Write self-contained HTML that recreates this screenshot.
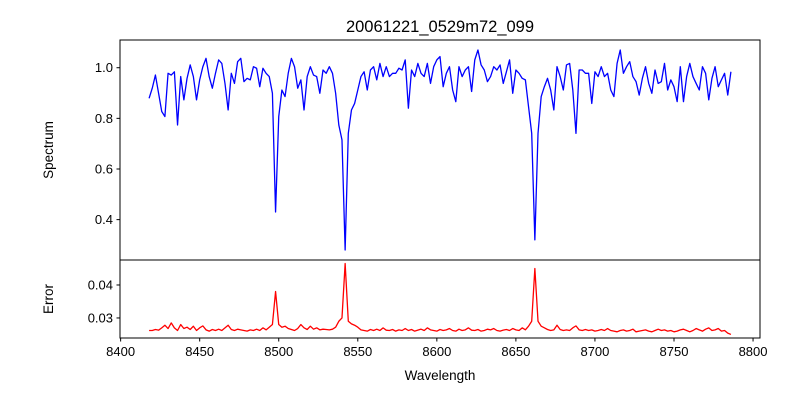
<!DOCTYPE html>
<html><head><meta charset="utf-8"><style>
body{margin:0;background:#fff;}
svg{display:block;font-family:"Liberation Sans","DejaVu Sans",sans-serif;}
</style></head><body>
<svg id="chart" width="800" height="400" viewBox="0 0 800 400" xmlns="http://www.w3.org/2000/svg">
<rect width="800" height="400" fill="#fff"/>
<text x="440" y="32" font-size="16.5" text-anchor="middle">20061221_0529m72_099</text>
<text x="0" y="0" font-size="13.5" text-anchor="middle" transform="translate(53,150) rotate(-90)">Spectrum</text>
<text x="0" y="0" font-size="13.5" text-anchor="middle" transform="translate(53,299) rotate(-90)">Error</text>
<text x="440" y="380" font-size="13.5" text-anchor="middle">Wavelength</text>
<g id="gtop"></g><g id="gbot"></g>
</svg>
<script>
const waveStart = 8418;
const waveStep = 2;
const spectrumValues = [
.879,.919,.971,.899,.827,.807,.978,.971,.984,.774,.965,.873,.958,1.011,.965,.873,.952,1.004,1.037,.965,.919,.978,1.031,1.017,.938,.833,.978,.938,1.024,1.037,.945,.958,.952,1.004,.998,.925,.998,.978,.965,.899,.43,.807,
.912,.886,.978,1.037,1.004,.919,.952,.833,.965,1.004,.971,.965,.899,.991,.978,1.004,.978,.899,.774,.715,.28,.741,.833,.859,.912,.965,.984,.912,.991,1.004,.952,1.017,.965,1.004,.965,.978,.978,.998,.991,1.031,.840,.991,.965,1.017,.978,.965,1.017,.938,1.004,1.031,
1.044,.925,.978,1.004,.912,.866,1.004,.965,.991,1.004,.906,1.031,1.07,1.011,.991,.945,.965,1.004,.991,1.011,.938,.984,1.031,.899,.991,.978,.958,.952,.846,.741,.32,.741,.886,.925,.958,.912,.833,1.004,.965,.912,1.011,1.017,.912,.741,.991,.991,.978,.978,.859,.984,
.965,1.004,.965,.978,.912,.886,1.017,1.07,.978,1.004,1.024,.965,.945,.892,.958,1.004,.938,.899,.991,.938,.945,1.017,.912,.952,.925,.866,1.004,.866,.965,1.017,.965,.938,.912,1.004,.978,.873,.958,1.004,.925,.952,.978,.892,.984];
const errorValues = [
.0262,.0262,.0265,.0263,.0270,.0278,.0268,.0285,.0270,.0262,.0280,.0268,
.0272,.0265,.0275,.0262,.0270,.0276,.0264,.0260,.0265,.0262,.0266,.0262,.0270,.0278,.0265,.0262,.0266,.0264,.0262,.0260,.0264,.0262,.0266,.0262,.0270,.0264,.0272,.0280,
.0380,.0280,.0272,.0275,
.0268,.0265,.0262,.0268,.0280,.0270,.0265,.0275,.0266,.0270,.0264,.0266,.0265,.0264,.0266,.0272,
.0290,.0300,.0465,.0290,.0282,.0278,.0272,
.0264,.0262,.0260,.0265,.0262,.0266,.0262,.0270,.0263,.0262,.0265,.0260,.0264,.0262,.0268,.0262,.0265,.0260,.0263,.0266,.0262,.0270,.0264,.0262,.0260,.0265,.0262,.0264,.0268,.0262,.0260,.0266,.0262,.0264,.0270,.0263,.0262,.0265,.0260,.0262,.0266,.0264,.0268,.0262,.0260,.0263,.0265,.0262,.0268,.0264,.0262,.0270,.0264,
.0275,.0290,.0450,.0290,.0275,.0270,
.0265,.0262,.0264,.0278,.0265,.0262,.0264,.0262,.0270,.0276,.0264,.0262,.0265,.0262,.0264,.0260,.0262,.0265,.0262,.0268,.0262,.0260,.0258,.0262,.0264,.0260,.0262,.0266,.0258,.0260,.0262,.0264,.0260,.0258,.0262,.0266,.0262,.0264,.0260,.0262,.0258,.0260,.0264,.0266,.0262,.0258,.0262,.0268,.0264,.0260,.0266,.0270,.0262,.0264,.0268,.0260,.0262,.0254,.0250];
const xTicks = [8400,8450,8500,8550,8600,8650,8700,8750,8800];
const topTicks = [0.4,0.6,0.8,1.0];
const botTicks = [0.03,0.04];

const NS="http://www.w3.org/2000/svg";
const L=120,R=760, T1=40,B1=260, T2=260,B2=338;
const waves = spectrumValues.map((_,i)=>waveStart+i*waveStep);
const wmin=Math.min(...waves), wmax=Math.max(...waves), wm=(wmax-wmin)*0.05;
const xs=w=>L+(w-(wmin-wm))/((wmax+wm)-(wmin-wm))*(R-L);
function yScale(vals,t,b){const mn=Math.min(...vals),mx=Math.max(...vals),m=(mx-mn)*0.05;return v=>b-(v-(mn-m))/((mx+m)-(mn-m))*(b-t);}
const y1=yScale(spectrumValues,T1,B1), y2=yScale(errorValues,T2,B2);
function el(tag,attrs,parent,txt){const e=document.createElementNS(NS,tag);for(const k in attrs)e.setAttribute(k,attrs[k]);if(txt!==undefined)e.textContent=txt;parent.appendChild(e);return e;}
const gTop=document.getElementById('gtop'), gBot=document.getElementById('gbot');

const p1=el('path',{d:spectrumValues.map((v,i)=>(i?'L':'M')+xs(waves[i]).toFixed(2)+' '+y1(v).toFixed(2)).join(''),fill:'none',stroke:'#0000ff','stroke-width':1.3,'stroke-linejoin':'round'},gTop);


const p2=el('path',{d:errorValues.map((v,i)=>(i?'L':'M')+xs(waves[i]).toFixed(2)+' '+y2(v).toFixed(2)).join(''),fill:'none',stroke:'#ff0000','stroke-width':1.3,'stroke-linejoin':'round'},gBot);



const f1=el('rect',{x:L,y:T1,width:R-L,height:B1-T1,fill:'none',stroke:'#000','stroke-width':1},gTop);


const f2=el('rect',{x:L,y:T2,width:R-L,height:B2-T2,fill:'none',stroke:'#000','stroke-width':1},gBot);



topTicks.forEach(t=>{const yy=y1(t);
 el('line',{x1:L-3.5,x2:L,y1:yy,y2:yy,stroke:'#000'},gTop);
 const tx=el('text',{x:L-7,y:yy+4.5,'font-size':13,'text-anchor':'end'},gTop,t.toFixed(1));
 
 });
botTicks.forEach(t=>{const yy=y2(t);
 el('line',{x1:L-3.5,x2:L,y1:yy,y2:yy,stroke:'#000'},gBot);
 const tx=el('text',{x:L-7,y:yy+4.5,'font-size':13,'text-anchor':'end'},gBot,t.toFixed(2));
 
 });
xTicks.forEach(t=>{const xx=xs(t);
 el('line',{x1:xx,x2:xx,y1:B2,y2:B2+3.5,stroke:'#000'},gBot);
 const tx=el('text',{x:xx,y:B2+18,'font-size':13,'text-anchor':'middle'},gBot,String(t));
 
 });
</script>
</body></html>
